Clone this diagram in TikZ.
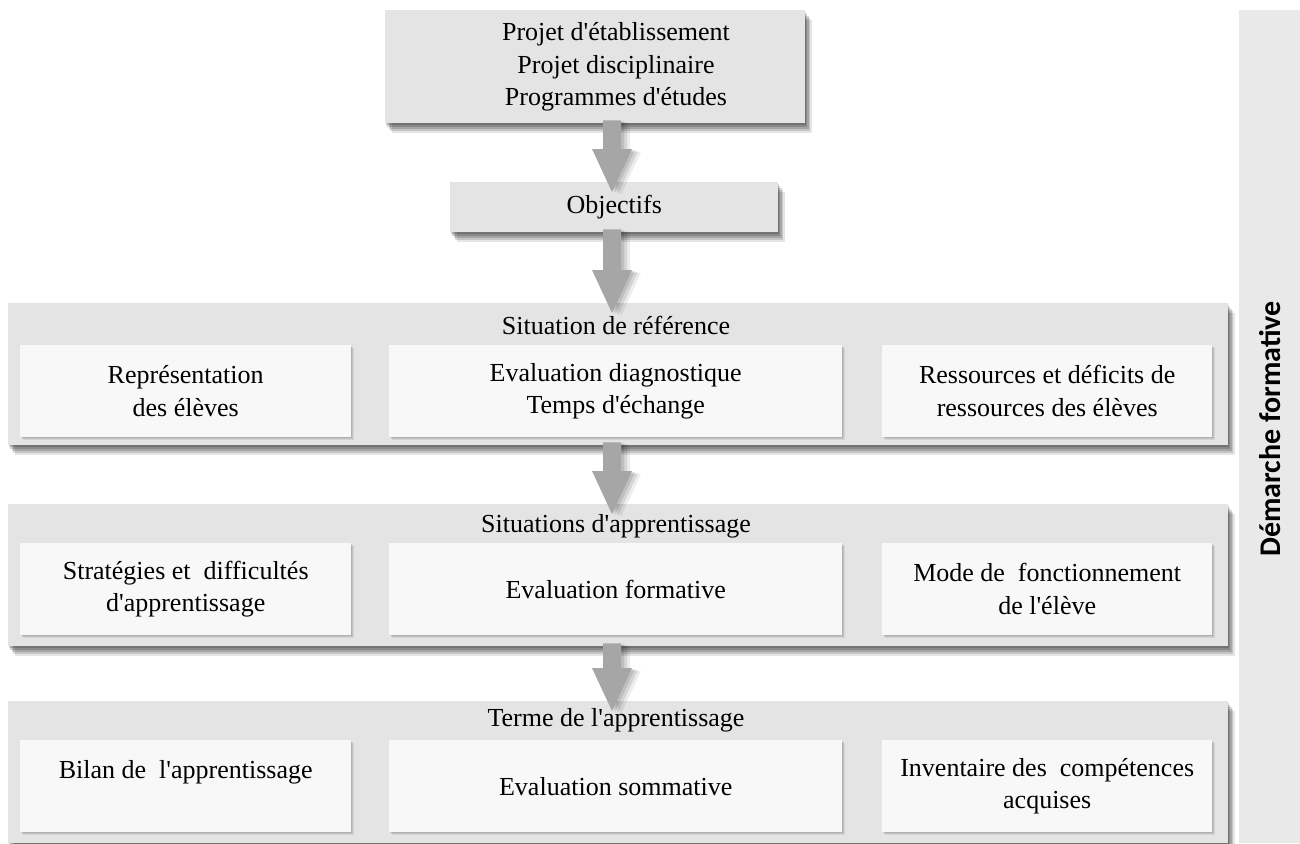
\documentclass[tikz,border=0pt]{standalone}
\usepackage{fontspec}
\setmainfont{Liberation Serif}[Ligatures=TeXOff]
\newfontfamily\barfont{Carlito}
\usetikzlibrary{shadows,calc}

\definecolor{panelgrey}{RGB}{228,228,228}
\definecolor{cardwhite}{RGB}{248,248,248}
\definecolor{bargrey}{RGB}{233,233,233}
\definecolor{arrowgrey}{RGB}{166,166,166}

\tikzset{
  x=1pt, y=-1pt,
  % soft shadow built from stacked translucent copies
  bigshadow/.style={
    general shadow={shadow xshift=1pt, shadow yshift=-2pt, fill=black, opacity=0.17},
    general shadow={shadow xshift=2pt, shadow yshift=-4pt, fill=black, opacity=0.17},
    general shadow={shadow xshift=3.5pt, shadow yshift=-6pt, fill=black, opacity=0.16},
    general shadow={shadow xshift=5pt, shadow yshift=-8pt, fill=black, opacity=0.14},
    general shadow={shadow xshift=6.5pt, shadow yshift=-10pt, fill=black, opacity=0.10}},
  smallshadow/.style={
    general shadow={shadow xshift=1pt, shadow yshift=-1pt, fill=black, opacity=0.09},
    general shadow={shadow xshift=2pt, shadow yshift=-2pt, fill=black, opacity=0.08},
    general shadow={shadow xshift=3pt, shadow yshift=-3pt, fill=black, opacity=0.07}},
  arrowshadow/.style={
    general shadow={shadow xshift=3pt, shadow yshift=-1pt, fill=black, opacity=0.11},
    general shadow={shadow xshift=6pt, shadow yshift=-2pt, fill=black, opacity=0.10},
    general shadow={shadow xshift=9pt, shadow yshift=-3pt, fill=black, opacity=0.07}},
  body/.style={font=\fontsize{26}{32.5}\selectfont, align=center, text=black},
  panel/.style={fill=panelgrey, draw=none, bigshadow, anchor=north west,
    inner sep=0pt, minimum width=1220pt, minimum height=142pt},
  card/.style={fill=cardwhite, draw=none, smallshadow, anchor=north west,
    inner sep=0pt, minimum height=92pt, body},
  headbox/.style={fill=panelgrey, draw=none, bigshadow, anchor=north west,
    inner sep=0pt, body},
  flowarrow/.style={fill=arrowgrey, draw=none, arrowshadow},
}

% block arrow from the bottom of #1 into the top of #2, on the arrow column
\newcommand\flowarrow[2]{%
  \path let \p1=(#1.south), \p2=(#2.north), \p3=(axis) in
    [flowarrow] (\x3-9pt,\y1+3pt) -- (\x3+9pt,\y1+3pt) -- (\x3+9pt,\y2+33pt)
    -- (\x3+20pt,\y2+33pt) -- (\x3,\y2-10pt) -- (\x3-20pt,\y2+33pt)
    -- (\x3-9pt,\y2+33pt) -- cycle;}

\begin{document}
\begin{tikzpicture}
\useasboundingbox (0,0) rectangle (1300,843);
\coordinate (axis) at (612,0);

% side band
\node[fill=bargrey, anchor=north west, inner sep=0pt,
  minimum width=61pt, minimum height=833pt] (band) at (1239,10) {};
\node[rotate=90, font=\barfont\bfseries\fontsize{30}{30}\selectfont]
  (bandlabel) at (1270,429) {Démarche formative};

% top of the chain
\node[headbox, minimum width=420pt, minimum height=113pt] (sources) at (385,10) {};
\node[body] (sourcestext) at (616,67)
  {Projet d'établissement\\Projet disciplinaire\\Programmes d'études};
\node[headbox, minimum width=328pt, minimum height=50pt] (objectifs) at (450,182)
  {Objectifs};

% first stage
\node[panel] (ref) at (8,303) {};
\node[body] (reftitle) at (616,325) {Situation de référence};
\node[card, minimum width=331pt] (ref1) at (20,345) {Représentation\\des élèves};
\node[card, minimum width=453pt] (ref2) at (389,345)
  {Evaluation diagnostique\\Temps d'échange};
\node[card, minimum width=330pt] (ref3) at (882,345)
  {Ressources et déficits de\\ressources des élèves};

% second stage
\node[panel] (app) at (8,504) {};
\node[body] (apptitle) at (616,526) {Situations d'apprentissage};
\node[card, minimum width=331pt] (app1) at (20,543)
  {Stratégies et~~difficultés\\d'apprentissage};
\node[card, minimum width=453pt] (app2) at (389,543) {Evaluation formative};
\node[card, minimum width=330pt] (app3) at (882,543)
  {Mode de~~fonctionnement\\de l'élève};

% third stage
\node[panel] (fin) at (8,701) {};
\node[body] (fintitle) at (616,720) {Terme de l'apprentissage};
\node[card, minimum width=331pt] (fin1) at (20,740)
  {Bilan de~~l'apprentissage\\\mbox{}};
\node[card, minimum width=453pt] (fin2) at (389,740) {Evaluation sommative};
\node[card, minimum width=330pt] (fin3) at (882,740)
  {Inventaire des~~compétences\\acquises};

% arrows between the stages
\flowarrow{sources}{objectifs}
\flowarrow{objectifs}{ref}
\flowarrow{ref}{app}
\flowarrow{app}{fin}
\end{tikzpicture}
\end{document}
